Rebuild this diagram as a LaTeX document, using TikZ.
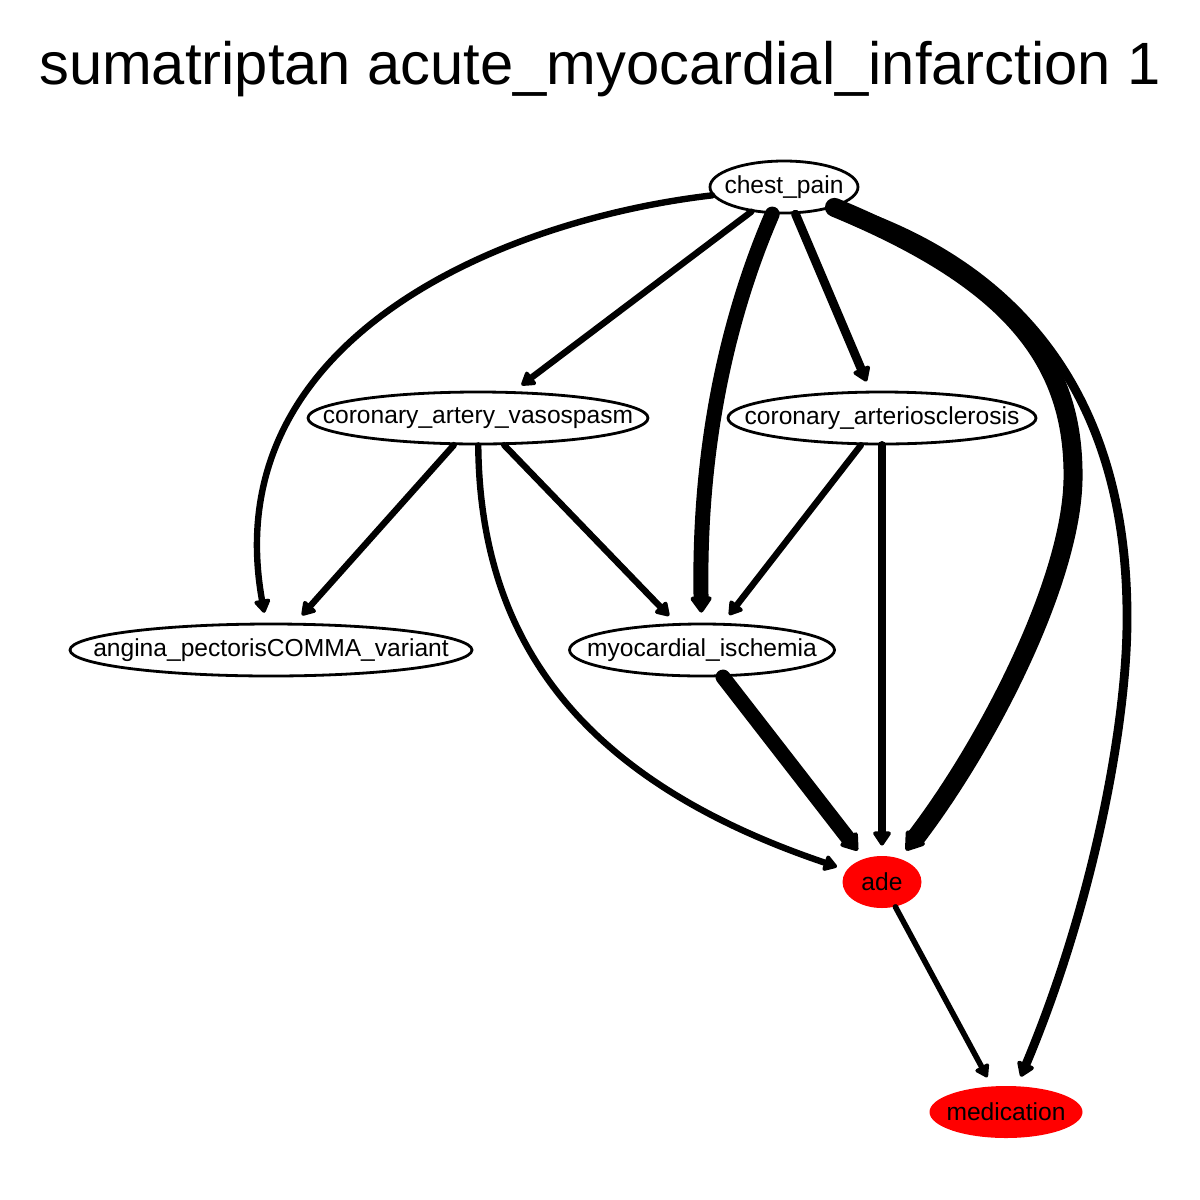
\documentclass[tikz,border=0pt]{standalone}
\usepackage{fontspec}
\setmainfont{Liberation Sans}
\usetikzlibrary{arrows.meta,shapes.geometric}
\begin{document}
\begin{tikzpicture}[x=0.5pt,y=-0.5pt,
  gnode/.style={ellipse,draw=black,line width=1.4pt,inner sep=0pt,minimum height=26pt},
  rnode/.style={ellipse,fill=red,draw=none,inner sep=0pt,minimum height=26pt},
  lbl/.style={font=\fontsize{12.3}{14}\selectfont},
  edge/.style={line cap=round,line join=round,shorten >=5pt},
  e1/.style={edge,line width=3.2pt,-{Triangle[length=7.5pt,width=9pt,round]}},
  e0/.style={edge,line width=2.8pt,-{Triangle[length=7pt,width=8.5pt,round]}},
  e2/.style={edge,line width=4.4pt,-{Triangle[length=8pt,width=10pt,round]}},
  e3/.style={edge,line width=7.5pt,-{Triangle[length=9pt,width=12pt,round]}},
  e4/.style={edge,line width=9.5pt,-{Triangle[length=10pt,width=13pt,round]}},
]
\useasboundingbox (0,0) rectangle (1200,1200);
\node[font=\fontsize{29.85}{36}\selectfont,anchor=base] (title) at (600,84) {sumatriptan acute\_myocardial\_infarction 1};

\node[gnode,minimum width=74pt,label={[lbl]center:chest\_pain}] (cp) at (784,187) {};
\node[gnode,minimum width=170pt,label={[lbl]center:coronary\_artery\_vasospasm}] (cav) at (478,418) {};
\node[gnode,minimum width=154pt,label={[lbl]center:coronary\_arteriosclerosis}] (car) at (882,418) {};
\node[gnode,minimum width=201pt,label={[lbl]center:angina\_pectorisCOMMA\_variant}] (ang) at (271,650) {};
\node[gnode,minimum width=132.5pt,label={[lbl]center:myocardial\_ischemia}] (mi) at (702,650) {};
\node[rnode,minimum width=39.5pt,label={[lbl]center:ade}] (ade) at (882,882) {};
\node[rnode,minimum width=76.5pt,label={[lbl]center:medication}] (med) at (1006,1112) {};

% edges
\draw[e1] (cp) .. controls (500,220) and (215,340) .. (ang);
\draw[e1] (cp) -- (cav);
\draw[e3] (cp) .. controls (735,300) and (698,430) .. (mi);
\draw[e2] (cp) -- (car);
\draw[e2] (cp.-20) .. controls (1040,270) and (1128,420) .. (1127,620)
   .. controls (1127,720) and (1095,900) .. (med);
\draw[e4] (cp.-22) .. controls (1010,280) and (1075,360) .. (1073,480)
   .. controls (1071,580) and (990,740) .. (ade);
\draw[e1] (cav) -- (ang);
\draw[e1] (cav) -- (mi);
\draw[e1] (cav) .. controls (480,640) and (580,780) .. (ade);
\draw[e1] (car) -- (mi);
\draw[e2] (car) -- (ade);
\draw[e3] (mi) -- (ade);
\draw[e0] (ade) -- (med);
\end{tikzpicture}
\end{document}
